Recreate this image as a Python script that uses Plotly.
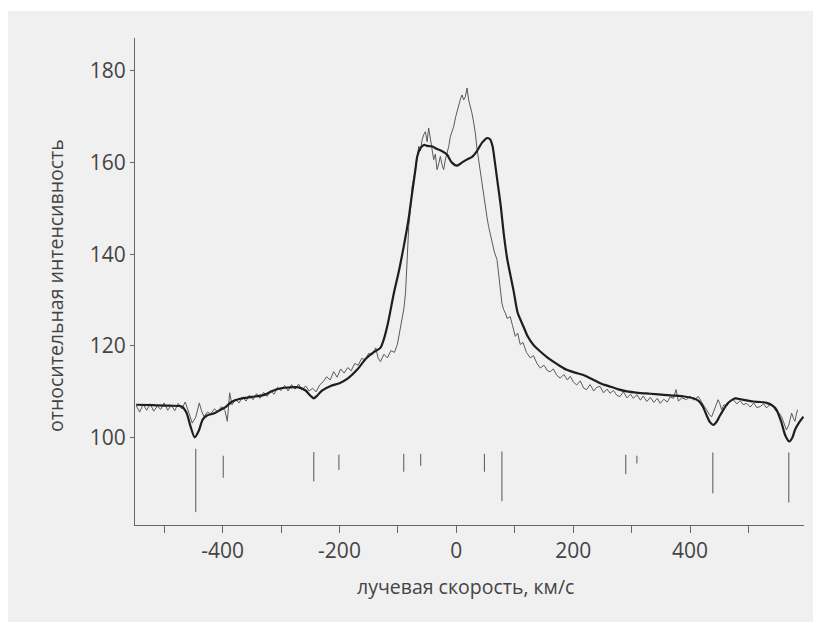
import plotly.graph_objects as go

# Observed (noisy) spectrum: radial velocity (km/s) and relative intensity
obs_v = [-548, -542, -536, -530, -524, -518, -512, -506, -500, -494, -488, -482, -476, -470,
         -464, -458, -452, -446, -440, -436, -432, -426, -420, -414, -408, -402, -396, -392,
         -388, -384, -378, -372, -366, -360, -354, -348, -342, -336, -330, -324, -318, -312,
         -306, -300, -294, -288, -282, -276, -270, -264, -258, -252, -246, -240, -234, -228,
         -222, -216, -210, -204, -198, -192, -186, -180, -174, -168, -162, -156, -150, -144,
         -138, -134, -130, -124, -118, -112, -106, -101, -96, -90, -87, -84, -81.5, -78,
         -75.7, -73, -70, -67, -64.4, -61.5, -58.6, -56, -53, -50, -47.4, -44.4, -41.5, -38.8,
         -36, -33, -30, -27.4, -24.5, -21.7, -19, -16, -13, -10.3, -7.5, -4.6, -1, 2, 4, 7,
         9.7, 12.5, 15.4, 18.3, 21, 24, 26.8, 29.5, 32.5, 35, 38, 41, 44, 47, 49.6, 52.5,
         55.2, 58, 61, 65, 69.6, 73, 76, 78, 81, 83.8, 87, 92.3, 96, 100.8, 105, 109.4, 114,
         120, 126.5, 132, 138, 143.6, 150, 156, 160.7, 166, 172, 177.8, 184, 190, 195, 200,
         206, 212, 218, 223, 229, 235, 240, 246, 252, 258, 263, 269, 275, 280, 286, 292, 298,
         303, 309, 315, 320, 326, 332, 338, 344, 349, 355, 361, 366, 371.5, 376, 380, 386,
         394, 400, 406, 414, 420, 424, 428.6, 433, 437, 441, 445, 448, 451, 454, 458, 463,
         468, 474, 480, 486, 491, 497, 503, 509, 514, 520, 526, 531, 536, 542, 547, 552,
         556.7, 561, 565, 569, 573.8, 577, 579.5, 582, 584]
obs_i = [107.0, 105.6, 107.3, 106.0, 107.4, 105.8, 106.9, 106.2, 107.6, 106.0, 107.1, 105.9, 107.5, 106.3,
         107.8, 105.5, 103.2, 104.5, 107.6, 105.8, 104.6, 105.6, 105.2, 106.3, 105.6, 106.8, 105.9, 103.6,
         109.8, 107.2, 108.4, 107.6, 108.9, 108.0, 109.3, 108.3, 109.6, 108.6, 109.9, 109.0, 110.2, 109.5,
         111.0, 110.3, 111.4, 110.2, 111.6, 110.6, 111.7, 110.4, 111.3, 110.2, 110.8, 110.0, 111.5, 112.2,
         113.3, 112.6, 114.4, 113.2, 115.0, 114.1, 115.3, 114.6, 116.2, 115.8, 117.3, 117.0, 118.4, 118.1,
         119.6, 117.4, 116.6, 118.2, 117.4, 119.0, 118.6, 120.3, 124.2, 128.0, 131.5, 138.0, 146.0, 150.5,
         154.7, 156.5, 158.4, 161.0, 163.5, 162.5, 164.9, 166.0, 166.7, 164.5, 167.5, 164.9, 162.0, 160.6,
         161.8, 158.4, 159.8, 161.3, 159.5, 158.4, 160.5, 162.0, 163.5, 165.6, 166.5, 167.8, 170.0, 171.5, 172.9, 173.8,
         174.7, 173.6, 174.3, 176.2, 173.6, 172.3, 170.7, 168.8, 166.4, 163.3, 160.6, 157.5, 154.7, 151.8, 149.7, 148.0,
         146.0, 144.3, 142.4, 140.5, 138.8, 134.5, 130.8, 129.3, 127.9, 127.2, 126.0, 126.4, 124.5, 122.1, 122.8, 120.3, 120.8,
         118.6, 117.4, 117.9, 116.2, 115.2, 115.8, 114.6, 114.4, 115.0, 113.6, 113.0, 113.8, 112.6, 113.4, 112.2,
         111.5, 112.4, 110.8, 110.5, 111.6, 110.2, 111.0, 111.2, 109.8, 110.6, 109.7, 110.3, 109.2, 109.0, 110.0, 108.7, 109.5,
         108.6, 109.4, 108.2, 109.1, 107.9, 108.8, 107.7, 108.6, 107.5, 108.4, 107.8, 108.9, 108.6, 110.5, 108.0, 108.7,
         108.3, 109.1, 108.2, 109.0, 107.6, 106.9, 106.1, 105.0, 104.6, 105.8, 107.0, 108.3, 107.4, 106.1, 107.2, 107.0,
         107.9, 108.3, 107.4, 108.1, 107.2, 107.5, 106.7, 107.6, 106.6, 106.8, 107.4, 106.5, 107.2, 106.8, 105.8, 105.4,
         104.6, 103.2, 101.7, 102.8, 105.4, 104.2, 103.6, 105.2, 106.1]

# Model (smooth) profile
mod_v = [-548, -520, -490, -470, -462, -455, -448, -441, -434, -426, -415, -405, -395, -385,
         -370, -350, -330, -315, -300, -285, -270, -258, -250, -244, -238, -230, -215, -200,
         -185, -170, -155, -142, -130, -124, -117, -107, -98, -90, -82, -75.7, -70, -67, -61.5,
         -55, -50, -42, -33, -25, -16, -8, 1, 10, 18, 27, 35, 44, 52.5, 58, 62, 66, 70, 76, 81,
         87, 98, 105, 115, 122, 132, 143.6, 155, 166, 178, 189, 203, 217.6, 232, 246, 262, 276,
         291.8, 311, 331.6, 350, 371.5, 390, 405.7, 415, 422, 428, 434, 439.8, 446, 451, 457,
         465, 477, 490, 508, 520, 531, 540, 548, 556, 563, 569.8, 575, 579.5, 587, 594]
mod_i = [107.2, 107.1, 107.0, 106.8, 105.5, 102.5, 100.1, 101.5, 104.0, 104.9, 105.3, 106.0, 106.7, 107.8,
         108.5, 108.9, 109.3, 110.2, 110.8, 111.0, 111.0, 110.3, 109.2, 108.6, 109.2, 110.3, 111.3, 111.9,
         113.0, 114.8, 117.2, 118.6, 119.6, 121.5, 125.0, 131.5, 136.5, 141.7, 147.5, 153.3, 158.5, 161.3, 163.1,
         163.8, 163.6, 163.5, 162.9, 162.5, 161.7, 160.0, 159.3, 160.0, 160.6, 161.2, 162.4, 164.3, 165.3, 165.0, 163.5, 160.0, 156.2, 150.5, 144.6,
         139.0, 132.0, 127.2, 124.2, 122.1, 120.2, 118.8, 117.6, 116.6, 115.6, 114.8, 114.2, 113.7, 112.8, 111.9, 111.2, 110.6,
         110.1, 109.8, 109.6, 109.4, 109.2, 109.0, 108.6, 108.0, 106.8, 105.0, 103.4, 102.8, 103.6, 104.8, 106.1,
         107.6, 108.6, 108.3, 107.9, 107.8, 107.6, 107.1, 106.1, 103.5, 100.5, 99.2, 100.0, 101.7, 103.4, 104.6]

# Absorption line markers: velocity, top and bottom of each tick
line_v = [-446, -399, -244, -201, -90, -61, 48, 78, 290, 309, 439, 569]
line_top = [97.6, 96.1, 96.9, 96.3, 96.5, 96.5, 96.5, 97.0, 96.3, 96.1, 96.8, 96.8]
line_bot = [83.8, 91.3, 90.5, 93.0, 92.6, 93.9, 92.6, 86.2, 92.1, 94.4, 87.9, 85.9]

x_tickvals = [-500, -400, -300, -200, -100, 0, 100, 200, 300, 400, 500]
x_ticktext = ["", "-400", "", "-200", "", "0", "", "200", "", "400", ""]
y_tickvals = [100, 120, 140, 160, 180]

mk_x, mk_y = [], []
for v, t, b in zip(line_v, line_top, line_bot):
    mk_x += [v, v, None]
    mk_y += [t, b, None]

fig = go.Figure()
fig.add_trace(go.Scatter(x=mk_x, y=mk_y, mode="lines",
                         line=dict(color="#555555", width=1), hoverinfo="skip"))
fig.add_trace(go.Scatter(x=obs_v, y=obs_i, mode="lines",
                         line=dict(color="#5a5a5a", width=1)))
fig.add_trace(go.Scatter(x=mod_v, y=mod_i, mode="lines",
                         line=dict(color="#1e1e1e", width=2.2, shape="spline", smoothing=0.6)))

# page offset of the figure (browser body margin)
OFF = 8
W, H = 821, 622
L, R, T, B = 127, 25, 30, 105
pw, ph = W - L - R, H - T - B

def px_x(p):
    return (p - OFF - L) / pw

def px_y(p):
    return (H - B - (p - OFF)) / ph

fig.add_shape(type="rect", xref="paper", yref="paper",
              x0=px_x(0), x1=px_x(840), y0=px_y(640), y1=px_y(11),
              fillcolor="#f0f0f0", line=dict(width=0), layer="below")

font_col = "#444444"
fig.update_layout(
    width=W, height=H,
    margin=dict(l=L, r=R, t=T, b=B),
    paper_bgcolor="white", plot_bgcolor="#f0f0f0",
    showlegend=False,
    font=dict(family="Open Sans", color=font_col),
    xaxis=dict(range=[-550, 595], tickvals=x_tickvals, ticktext=x_ticktext,
               ticks="outside", ticklen=7, tickcolor="#666666", tickwidth=1,
               showline=True, linecolor="#666666", linewidth=1,
               showgrid=False, zeroline=False,
               tickfont=dict(size=21, color=font_col)),
    yaxis=dict(range=[81, 187.1], tickvals=y_tickvals,
               ticks="outside", ticklen=4, tickcolor="#666666", tickwidth=1,
               showline=True, linecolor="#666666", linewidth=1,
               showgrid=False, zeroline=False,
               tickfont=dict(size=21, color=font_col)),
    annotations=[
        dict(text="лучевая скорость, км/с", xref="paper", yref="paper",
             x=px_x(465), y=px_y(586), xanchor="center", yanchor="middle",
             showarrow=False, font=dict(size=19.5, color=font_col)),
        dict(text="относительная интенсивность", xref="paper", yref="paper",
             x=px_x(55), y=px_y(286), xanchor="center", yanchor="middle",
             textangle=-90, showarrow=False, font=dict(size=19.5, color=font_col)),
    ],
)

fig.write_html("out.html")
